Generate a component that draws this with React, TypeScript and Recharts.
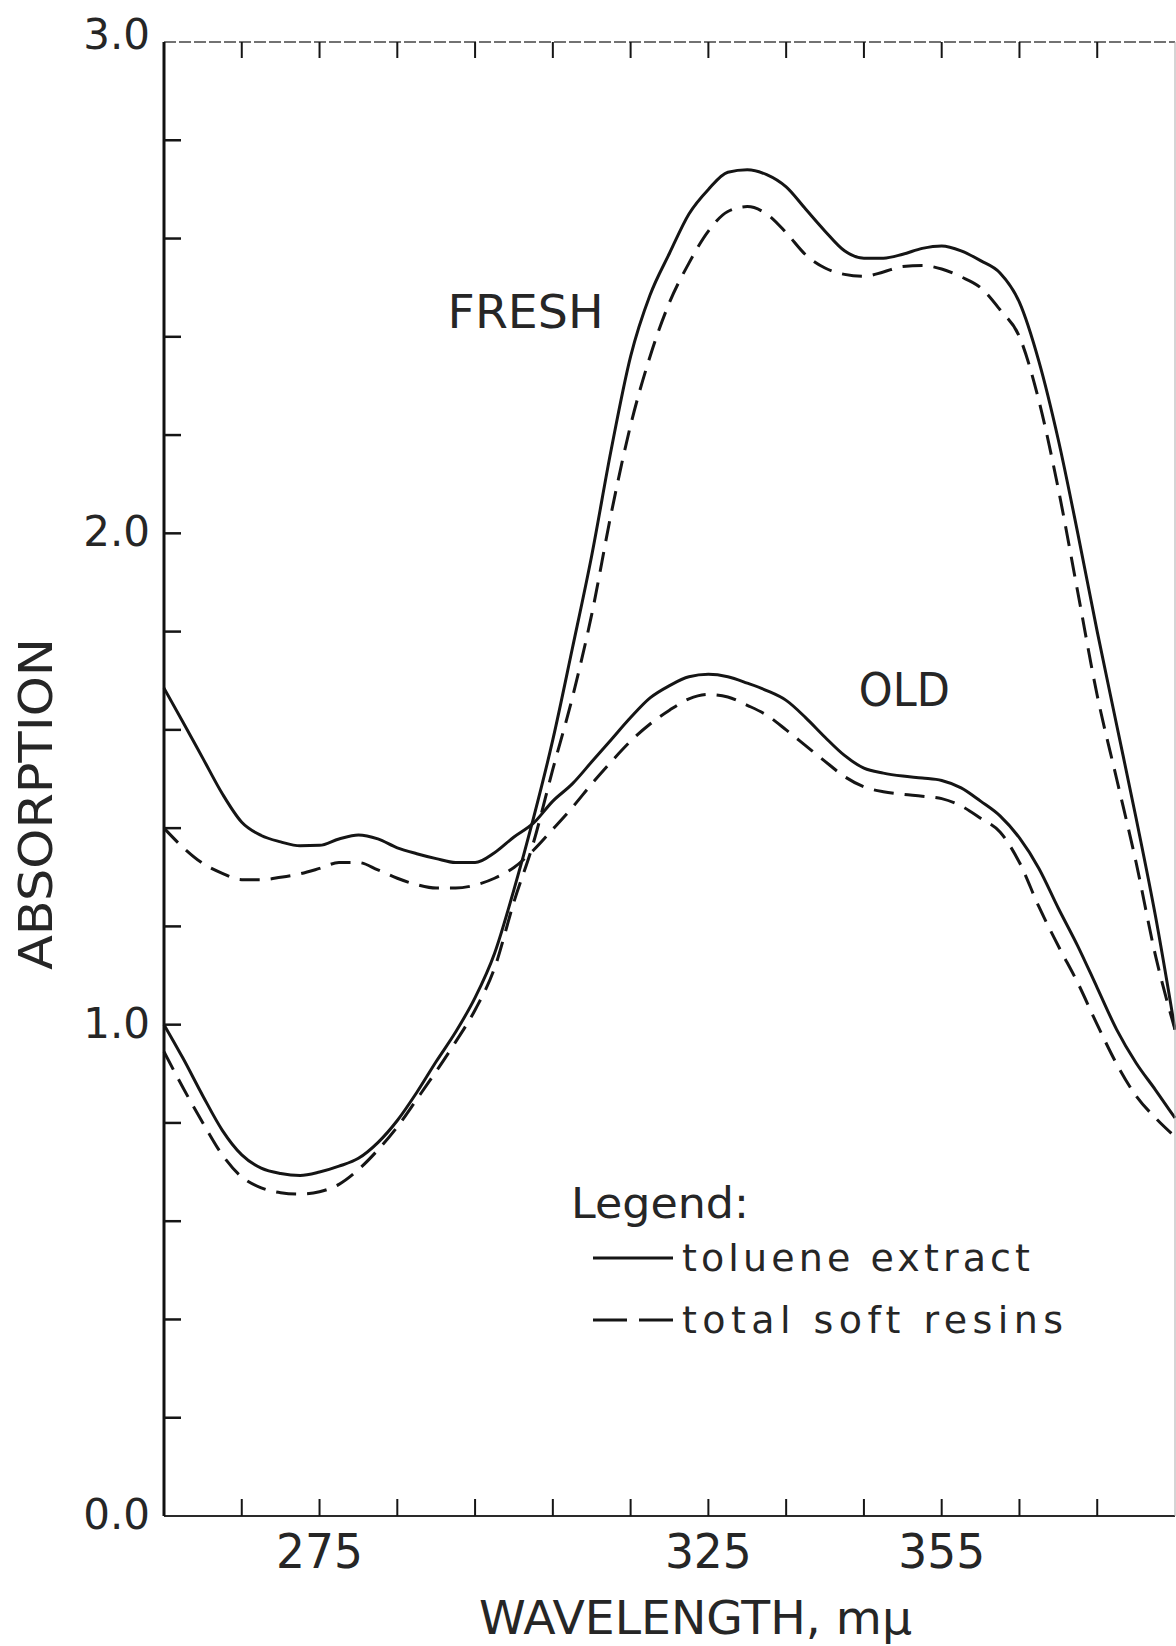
import { LineChart, Line, XAxis, YAxis, Legend, ReferenceDot } from "recharts";

// wavelength grid, mμ
const wavelengths = [
  255, 257.5, 260, 262.5, 265, 267.5, 270, 272.5, 275, 277.5, 280, 282.5, 285,
  287.5, 290, 292.5, 295, 297.5, 300, 302.5, 305, 307.5, 310, 312.5, 315, 317.5,
  320, 322.5, 325, 327.5, 330, 332.5, 335, 337.5, 340, 342.5, 345, 347.5, 350,
  352.5, 355, 357.5, 360, 362.5, 365, 367.5, 370, 372.5, 375, 377.5, 380, 382.5,
  385,
];

// FRESH - toluene extract (solid)
const freshToluene = [
  1.0, 0.93, 0.855, 0.785, 0.735, 0.708, 0.697, 0.693, 0.7, 0.712, 0.728, 0.76,
  0.805, 0.862, 0.925, 0.985, 1.055, 1.145, 1.275, 1.42, 1.58, 1.765, 1.955, 2.17,
  2.36, 2.485, 2.57, 2.65, 2.7, 2.735, 2.74, 2.73, 2.705, 2.66, 2.615, 2.575, 2.56,
  2.56, 2.568, 2.58, 2.585, 2.575, 2.555, 2.53, 2.47, 2.35, 2.19, 2.0, 1.8, 1.61,
  1.42, 1.22, 0.99,
];

// FRESH - total soft resins (dashed)
const freshResins = [
  0.945, 0.87, 0.8, 0.735, 0.69, 0.668, 0.658, 0.655, 0.66, 0.675, 0.705, 0.745,
  0.792, 0.848, 0.905, 0.965, 1.03, 1.115, 1.25, 1.37, 1.52, 1.665, 1.835, 2.04,
  2.22, 2.36, 2.47, 2.55, 2.615, 2.655, 2.665, 2.65, 2.612, 2.567, 2.54, 2.527,
  2.523, 2.532, 2.543, 2.545, 2.538, 2.522, 2.5, 2.455, 2.4, 2.27, 2.09, 1.88,
  1.67, 1.5, 1.33, 1.14, 0.99,
];

// OLD - toluene extract (solid)
const oldToluene = [
  1.685, 1.614, 1.542, 1.47, 1.412, 1.385, 1.372, 1.364, 1.365, 1.378, 1.386,
  1.378, 1.36, 1.348, 1.338, 1.33, 1.33, 1.35, 1.382, 1.41, 1.455, 1.49, 1.535,
  1.58, 1.625, 1.665, 1.69, 1.708, 1.713, 1.708, 1.695, 1.68, 1.66, 1.625, 1.585,
  1.548, 1.522, 1.512, 1.506, 1.502, 1.497, 1.482, 1.455, 1.425, 1.38, 1.318,
  1.237, 1.16, 1.075, 0.99, 0.922, 0.867, 0.81,
];

// OLD - total soft resins (dashed)
const oldResins = [
  1.4, 1.36, 1.328, 1.308, 1.295, 1.295, 1.3, 1.307, 1.318, 1.33, 1.33, 1.315,
  1.298, 1.285, 1.278, 1.278, 1.284, 1.298, 1.32, 1.355, 1.398, 1.442, 1.49,
  1.535, 1.577, 1.612, 1.64, 1.663, 1.672, 1.667, 1.65, 1.63, 1.6, 1.568, 1.536,
  1.505, 1.484, 1.474, 1.469, 1.465, 1.46, 1.445, 1.42, 1.392, 1.33, 1.24, 1.16,
  1.085, 1.0, 0.92, 0.855, 0.81, 0.772,
];

const xTicks = [265, 275, 285, 295, 305, 315, 325, 335, 345, 355, 365, 375];
const xTickLabels = [275, 325, 355];
const yTicks = [0, 0.2, 0.4, 0.6, 0.8, 1, 1.2, 1.4, 1.6, 1.8, 2, 2.2, 2.4, 2.6, 2.8, 3];
const yTickLabels = [0, 1, 2, 3];

const data = wavelengths.map((w, i) => ({
  w,
  freshToluene: freshToluene[i],
  freshResins: freshResins[i],
  oldToluene: oldToluene[i],
  oldResins: oldResins[i],
}));

const INK = "#151515";
const TEXT = "#262626";
const FONT = "'DejaVu Sans', 'Liberation Sans', sans-serif";
const DASH = "20 11";

function BottomTick({ x, y, payload }: any) {
  const v = payload.value;
  return (
    <g>
      <line x1={x} y1={y} x2={x} y2={y - 17} stroke={INK} strokeWidth={2} />
      {xTickLabels.includes(v) && (
        <text
          x={x}
          y={y + 52}
          textAnchor="middle"
          fontSize={48}
          fontFamily={FONT}
          fill={TEXT}
          textLength={87}
          lengthAdjust="spacingAndGlyphs"
        >
          {v}
        </text>
      )}
    </g>
  );
}

function TopTick({ x, y }: any) {
  return <line x1={x} y1={y} x2={x} y2={y + 16} stroke={INK} strokeWidth={2} />;
}

function LeftTick({ x, y, payload }: any) {
  const v = payload.value;
  const edge = v <= 0 || v >= 3;
  return (
    <g>
      {!edge && <line x1={x} y1={y} x2={x + 17} y2={y} stroke={INK} strokeWidth={2.5} />}
      {yTickLabels.includes(v) && (
        <text
          x={x - 14}
          y={y + (v === 3 ? 7 : 13)}
          textAnchor="end"
          fontSize={42}
          fontFamily={FONT}
          fill={TEXT}
        >
          {v.toFixed(1)}
        </text>
      )}
    </g>
  );
}

function RightTick({ x, y, payload }: any) {
  const v = payload.value;
  if (v <= 0 || v >= 3) return <g />;
  return <line x1={x} y1={y} x2={x - 15} y2={y} stroke={INK} strokeWidth={2} />;
}

function XTitle({ viewBox }: any) {
  const cx = viewBox.x + viewBox.width / 2 + 26;
  return (
    <text
      x={cx}
      y={viewBox.y + 118}
      textAnchor="middle"
      fontSize={46}
      fontFamily={FONT}
      fill={TEXT}
      textLength={433}
      lengthAdjust="spacingAndGlyphs"
    >
      {"WAVELENGTH, m\u03bc"}
    </text>
  );
}

function YTitle({ viewBox }: any) {
  const cx = viewBox.x + 18;
  const cy = viewBox.y + viewBox.height / 2 + 25;
  return (
    <text
      x={cx}
      y={cy}
      transform={`rotate(-90 ${cx} ${cy})`}
      textAnchor="middle"
      fontSize={46}
      fontFamily={FONT}
      fill={TEXT}
      textLength={332}
      lengthAdjust="spacingAndGlyphs"
    >
      ABSORPTION
    </text>
  );
}

function curveLabel(text: string, width: number) {
  return ({ viewBox }: any) => (
    <text
      x={viewBox.x + viewBox.width / 2}
      y={viewBox.y + viewBox.height / 2}
      textAnchor="middle"
      fontSize={46}
      fontFamily={FONT}
      fill={TEXT}
      textLength={width}
      lengthAdjust="spacingAndGlyphs"
    >
      {text}
    </text>
  );
}

function LegendBox() {
  return (
    <svg width={520} height={180} style={{ overflow: "visible" }}>
      <text x={11} y={48} fontSize={42} fontFamily={FONT} fill={TEXT} textLength={178} lengthAdjust="spacingAndGlyphs">
        Legend:
      </text>
      <line x1={33} y1={88} x2={113} y2={88} stroke={INK} strokeWidth={3} />
      <text x={122} y={101} fontSize={38} fontFamily={FONT} fill={TEXT} textLength={348} lengthAdjust="spacing">
        toluene  extract
      </text>
      <line x1={33} y1={150} x2={113} y2={150} stroke={INK} strokeWidth={3} strokeDasharray="34 12" />
      <text x={122} y={163} fontSize={38} fontFamily={FONT} fill={TEXT} textLength={381} lengthAdjust="spacing">
        total  soft  resins
      </text>
    </svg>
  );
}

export default function App() {
  return (
    <div style={{ position: "absolute", left: 0, top: 0, width: 1176, height: 1646, background: "#fff" }}>
      <LineChart width={1176} height={1646} data={data} margin={{ top: 41, right: 0, left: 34, bottom: 0 }}>
        <XAxis
          dataKey="w"
          type="number"
          domain={[255, 385]}
          ticks={xTicks}
          interval={0}
          height={130}
          tickSize={0}
          tickMargin={0}
          tick={<BottomTick />}
          axisLine={{ stroke: "#2a2a2a", strokeWidth: 2 }}
          label={(p: any) => <XTitle {...p} />}
        />
        <XAxis
          xAxisId="top"
          orientation="top"
          dataKey="w"
          type="number"
          domain={[255, 385]}
          ticks={xTicks}
          interval={0}
          height={1}
          tickSize={0}
          tickMargin={0}
          tick={<TopTick />}
          axisLine={{ stroke: "#444", strokeWidth: 1.5, strokeDasharray: "12 3" }}
        />
        <YAxis
          type="number"
          domain={[0, 3]}
          ticks={yTicks}
          interval={0}
          width={130}
          tickSize={0}
          tickMargin={0}
          tick={<LeftTick />}
          axisLine={{ stroke: "#111", strokeWidth: 3 }}
          label={(p: any) => <YTitle {...p} />}
        />
        <YAxis
          yAxisId="right"
          orientation="right"
          type="number"
          domain={[0, 3]}
          ticks={yTicks}
          interval={0}
          width={1}
          tickSize={0}
          tickMargin={0}
          tick={<RightTick />}
          axisLine={{ stroke: "#aaa", strokeWidth: 1 }}
        />
        <Line dataKey="freshToluene" type="monotone" stroke={INK} strokeWidth={3} dot={false} activeDot={false} isAnimationActive={false} />
        <Line dataKey="freshResins" type="monotone" stroke={INK} strokeWidth={3} strokeDasharray={DASH} dot={false} activeDot={false} isAnimationActive={false} />
        <Line dataKey="oldToluene" type="monotone" stroke={INK} strokeWidth={3} dot={false} activeDot={false} isAnimationActive={false} />
        <Line dataKey="oldResins" type="monotone" stroke={INK} strokeWidth={3} strokeDasharray={DASH} dot={false} activeDot={false} isAnimationActive={false} />
        <ReferenceDot x={301.5} y={2.418} r={1} fill="none" stroke="none" label={curveLabel("FRESH", 156)} />
        <ReferenceDot x={350.2} y={1.649} r={1} fill="none" stroke="none" label={curveLabel("OLD", 91)} />
        <Legend
          layout="vertical"
          align="center"
          verticalAlign="middle"
          content={() => <LegendBox />}
          wrapperStyle={{ left: 560, top: 1170, width: 520, height: 180 }}
        />
      </LineChart>
    </div>
  );
}
